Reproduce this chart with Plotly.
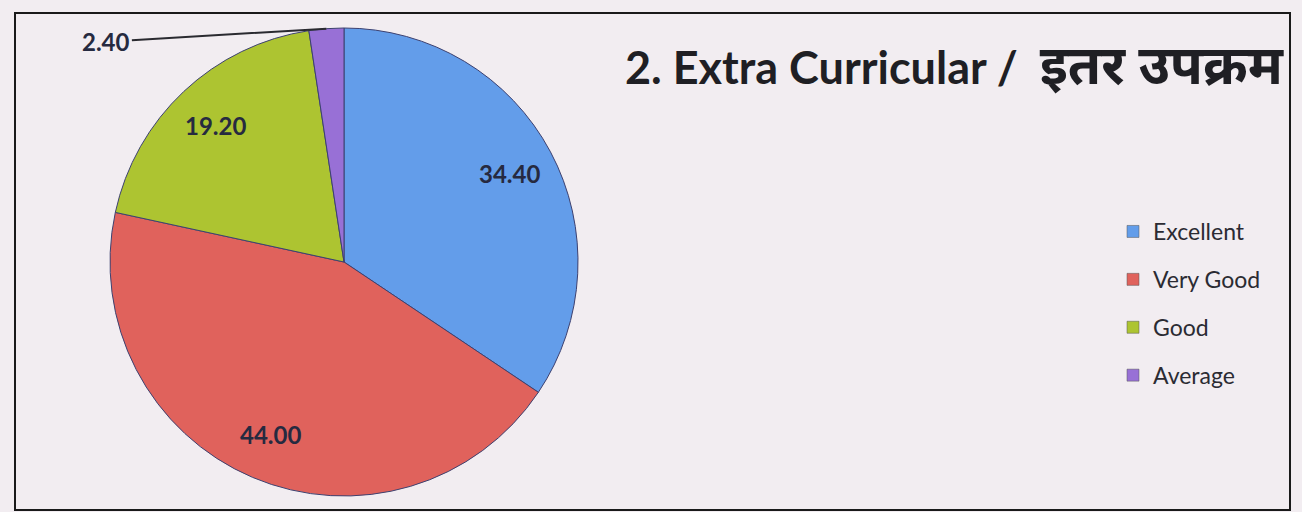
import math
import plotly.graph_objects as go

categories = ["Excellent", "Very Good", "Good", "Average"]
values = [34.40, 44.00, 19.20, 2.40]
colors = ["#639DEA", "#E0625C", "#ADC431", "#9870D6"]
title_latin = "2. Extra Curricular /"
title_hindi = "इतर उपक्रम"

W, H = 1302, 512
CX, CY, R = 344, 262, 234  # pie centre / radius in pixels

fig = go.Figure()
fig.add_trace(go.Pie(
    labels=categories, values=values, sort=False, direction="clockwise", rotation=0,
    marker=dict(colors=colors, line=dict(color="#3d4170", width=1)),
    textinfo="none", hoverinfo="label+value", showlegend=False,
    domain=dict(x=[(CX - R) / W, (CX + R) / W], y=[1 - (CY + R) / H, 1 - (CY - R) / H]),
))

# legend entries (dummy traces so the items can be spaced apart)
for cat, col in zip(categories, colors):
    fig.add_trace(go.Scatter(
        x=[None], y=[None], mode="markers", name=cat, legendgroup=cat,
        marker=dict(symbol="square", size=12, color=col, line=dict(color="#555", width=0.5)),
    ))

# value labels from data
total = sum(values)
cum = 0.0
annotations = []
label_font = dict(family="Lato, sans-serif", size=24, color="#262a40", weight="bold")
for cat, v in zip(categories, values):
    mid = (cum + v / 2) / total * 2 * math.pi
    cum += v
    label = f"{v:.2f}"
    if v / total > 0.05:
        px = CX + 0.8 * R * math.sin(mid)
        py = CY - 0.8 * R * math.cos(mid)
        annotations.append(dict(
            x=px / W, y=1 - py / H, xref="paper", yref="paper", text=label, showarrow=False,
            xanchor="center", yanchor="middle", font=label_font,
        ))
    else:
        ex = CX + R * math.sin(mid)
        ey = CY - R * math.cos(mid)
        annotations.append(dict(
            x=ex / W, y=1 - ey / H, xref="paper", yref="paper", text=label,
            showarrow=True, arrowhead=0, arrowwidth=2, arrowcolor="#2a2a30",
            ax=-220, ay=13, standoff=0, startstandoff=0,
            font=label_font,
        ))

fig.update_layout(
    width=W, height=H,
    margin=dict(l=0, r=0, t=0, b=0),
    paper_bgcolor="#F2EDF1", plot_bgcolor="rgba(0,0,0,0)",
    xaxis=dict(visible=False), yaxis=dict(visible=False),
    title=dict(
        text=f"{title_latin}\u00a0\u00a0<span style='font-size:54px'>{title_hindi}</span>",
        x=625 / W, xanchor="left", y=1 - 68 / H, yanchor="middle",
        xref="paper", yref="paper",
        font=dict(family="Lato, 'Noto Sans', sans-serif", size=45, color="#1f1f24", weight="bold"),
    ),
    showlegend=True,
    legend=dict(
        x=1113 / W, xanchor="left", y=1 - 210 / H, yanchor="top",
        font=dict(family="Lato, sans-serif", size=23, color="#2b2b33"),
        tracegroupgap=15, itemwidth=30, bgcolor="rgba(0,0,0,0)",
    ),
    annotations=annotations,
    shapes=[dict(type="rect", xref="paper", yref="paper",
                 x0=15 / W, x1=1290 / W, y0=1 - 510 / H, y1=1 - 13 / H,
                 line=dict(color="#1a1a1a", width=2), layer="below")],
)

fig.write_html(
    "out.html",
    config={"displayModeBar": False},
    post_script="document.body.style.margin='0';document.body.style.overflow='hidden';",
)
